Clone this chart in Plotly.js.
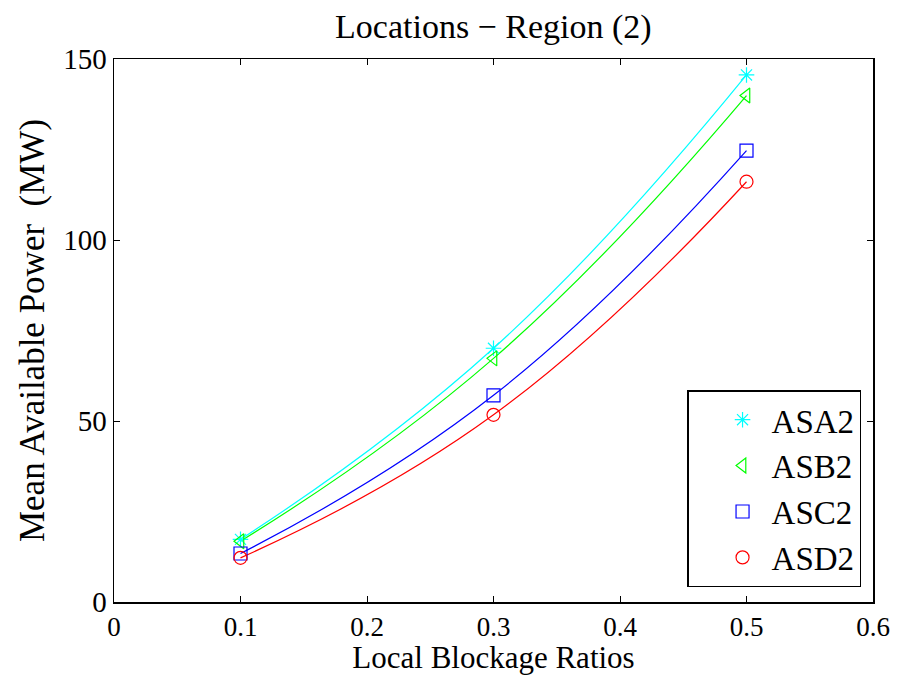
<!DOCTYPE html>
<html>
<head>
<meta charset="utf-8">
<script src="https://cdn.plot.ly/plotly-3.0.1.min.js"></script>
<style>html,body{margin:0;padding:0;background:#fff;}</style>
</head>
<body>
<div id="chart" style="width:898px;height:675px;"></div>
<script>
const ratios = [0.1, 0.3, 0.5];
const seriesNames = ["ASA2", "ASB2", "ASC2", "ASD2"];
const asa2 = [17.3, 70.1, 145.6];
const asb2 = [16.8, 67.3, 139.9];
const asc2 = [13.4, 57.1, 124.7];
const asd2 = [12.2, 51.7, 116.1];
const colors = ["#00ffff", "#00ff00", "#0000ff", "#ff0000"];
const symbols = ["asterisk-open", "triangle-left-open", "square-open", "circle-open"];
const xTicks = [0, 0.1, 0.2, 0.3, 0.4, 0.5, 0.6];
const xTickText = ["0", "0.1", "0.2", "0.3", "0.4", "0.5", "0.6"];
const yTicks = [0, 50, 100, 150];

const values = [asa2, asb2, asc2, asd2];
const traces = [];
values.forEach((v, i) => {
  traces.push({
    x: ratios, y: v, mode: "lines", line: {color: colors[i], width: 1.2, shape: "spline", smoothing: 1.3},
    showlegend: false, hoverinfo: "skip"
  });
});
values.forEach((v, i) => {
  traces.push({
    x: ratios, y: v, mode: "markers", name: seriesNames[i],
    marker: {color: colors[i], symbol: symbols[i], size: 13, line: {color: colors[i], width: 1.2}}
  });
});

const font = {family: "Liberation Serif, Times New Roman, serif", color: "#000"};
const layout = {
  width: 898, height: 675,
  margin: {l: 114, r: 25, t: 59, b: 73},
  paper_bgcolor: "#fff", plot_bgcolor: "#fff",
  font: Object.assign({}, font, {size: 28}),
  title: {text: "Locations \u2212 Region (2)", font: Object.assign({}, font, {size: 34}), x: 0.5494, xanchor: "center", y: 0.962, yanchor: "middle"},
  xaxis: {
    range: [0, 0.6], tickvals: xTicks, ticktext: xTickText,
    ticks: "inside", ticklen: 6, tickcolor: "#000", tickwidth: 1,
    showline: true, linecolor: "#000", linewidth: 1.5, mirror: "ticks",
    showgrid: false, zeroline: false,
    tickfont: Object.assign({}, font, {size: 27}),
    title: {text: "Local Blockage Ratios", font: Object.assign({}, font, {size: 31}), standoff: 0}
  },
  yaxis: {
    range: [0, 150], tickvals: yTicks,
    ticks: "inside", ticklen: 6, tickcolor: "#000", tickwidth: 1,
    showline: true, linecolor: "#000", linewidth: 1.5, mirror: "ticks",
    showgrid: false, zeroline: false,
    tickfont: Object.assign({}, font, {size: 29}),
    title: {text: "Mean Available Power  (MW)", font: Object.assign({}, font, {size: 35}), standoff: 8}
  },
  legend: {
    x: 0.755, y: 0.39, xanchor: "left", yanchor: "top",
    bgcolor: "#fff", bordercolor: "#000", borderwidth: 1.5,
    font: Object.assign({}, font, {size: 33}),
    indentation: 25, itemwidth: 48
  },
  showlegend: true
};
Plotly.newPlot("chart", traces, layout, {displayModeBar: false, staticPlot: true});
</script>
</body>
</html>
